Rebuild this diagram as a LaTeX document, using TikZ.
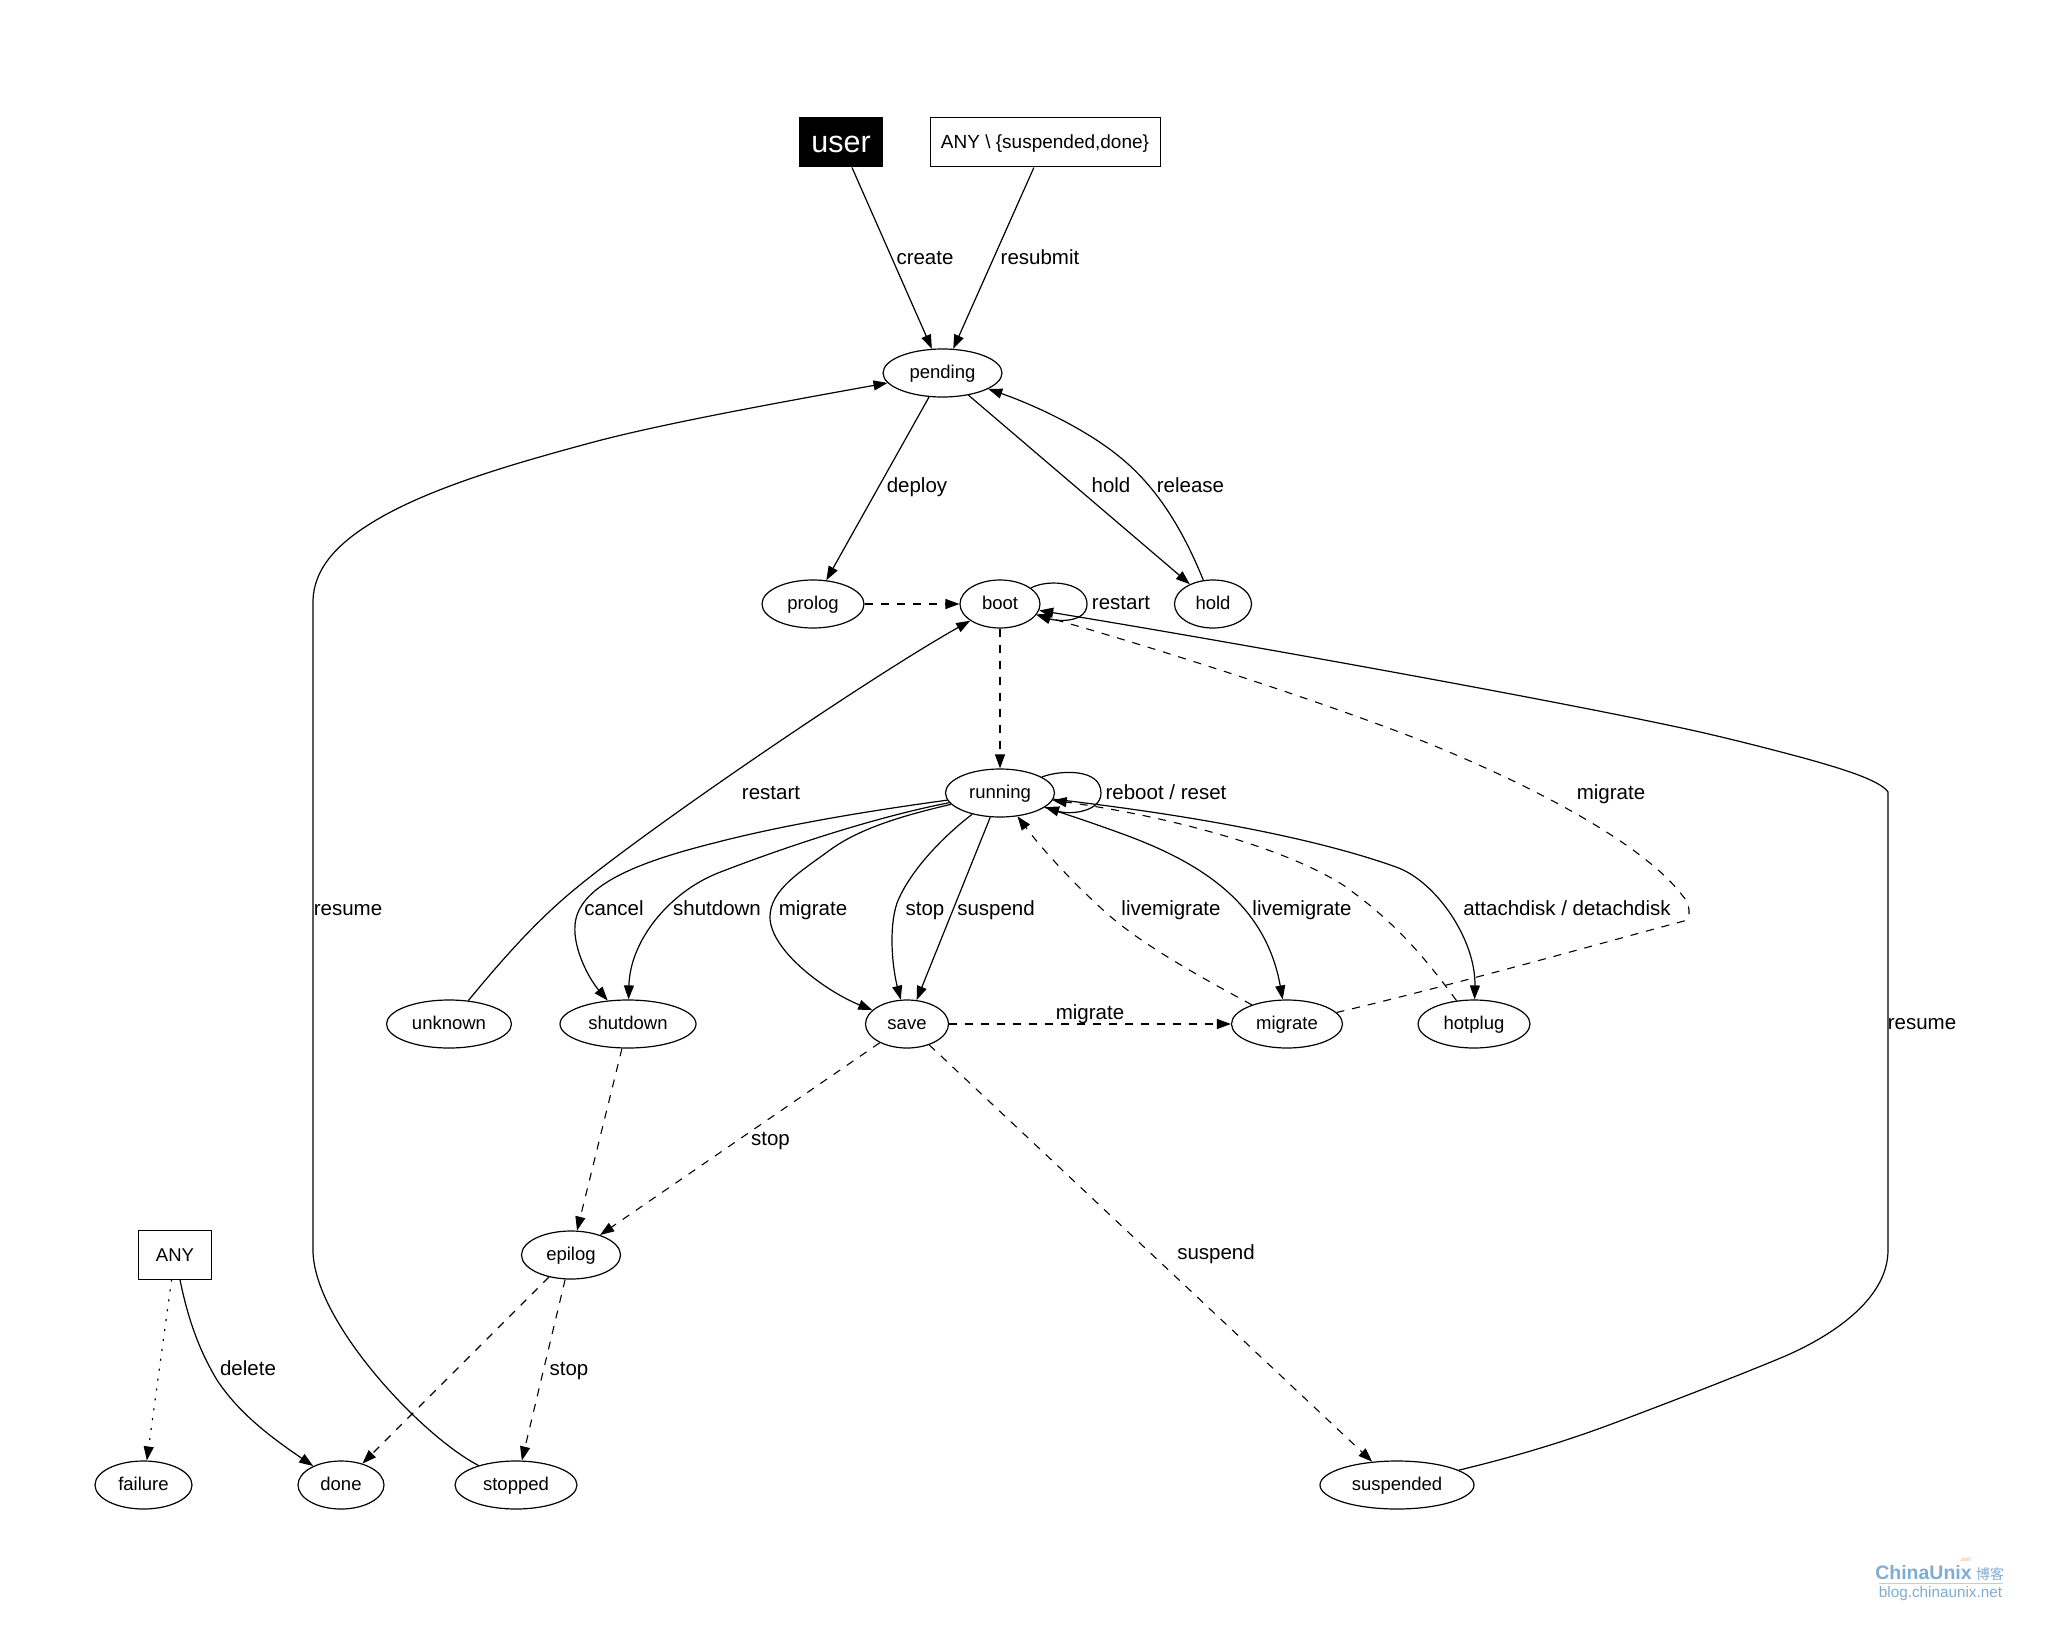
\documentclass[tikz,border=0pt]{standalone}
\usepackage{fontspec}
\setmainfont{Liberation Sans}
\newfontfamily\cjk{Noto Sans CJK SC}
\usetikzlibrary{arrows.meta,shapes.geometric}
\definecolor{markblue}{HTML}{7FACD3}
\tikzset{
  state/.style={ellipse,draw,line width=1.2pt,minimum height=48pt,inner sep=0pt,text height=14pt,text depth=3pt,font=\fontsize{18.5}{20}\selectfont},
  srcbox/.style={rectangle,draw,line width=1pt,minimum height=49pt,inner sep=0pt,text height=15pt,text depth=2pt,font=\fontsize{18.5}{20}\selectfont},
  edgelab/.style={inner sep=0pt,text height=15pt,text depth=2pt,font=\fontsize{20.5}{22}\selectfont},
  marktext/.style={inner sep=0pt,text=markblue},
  trans/.style={line width=1.2pt,-{Triangle[length=14pt,width=10pt]}},
  dashtrans/.style={trans,line width=1.1pt,dash pattern=on 8pt off 8pt},
  dottrans/.style={trans,dash pattern=on 2pt off 8pt},
}
\begin{document}
\begin{tikzpicture}[x=1pt,y=-1pt]
  \useasboundingbox (0,0) rectangle (2051,1627);

  % Source boxes
  \node[srcbox,fill=black,text=white,minimum width=83pt,text height=24pt,text depth=4pt,font=\fontsize{30.5}{32}\selectfont] (user) at (841,142.5) {user};
  \node[srcbox,minimum width=230pt,font=\fontsize{19}{20}\selectfont] (anyrest) at (1045,142.5) {ANY \textbackslash\ \{suspended,done\}};
  \node[srcbox,minimum width=73pt] (anyall) at (175,1254.5) {ANY};

  % States
  \node[state,minimum width=119pt] (pending) at (942.5,373) {pending};
  \node[state,minimum width=102pt] (prolog) at (813,604) {prolog};
  \node[state,minimum width=80pt] (boot) at (1000,604) {boot};
  \node[state,minimum width=77pt] (hold) at (1213,604) {hold};
  \node[state,minimum width=109pt] (running) at (1000,793) {running};
  \node[state,minimum width=125pt] (unknown) at (449,1024) {unknown};
  \node[state,minimum width=136pt] (shutdown) at (628,1024) {shutdown};
  \node[state,minimum width=83pt] (save) at (907,1024) {save};
  \node[state,minimum width=111pt] (migrate) at (1287,1024) {migrate};
  \node[state,minimum width=112pt] (hotplug) at (1474,1024) {hotplug};
  \node[state,minimum width=99pt] (epilog) at (571,1255) {epilog};
  \node[state,minimum width=97pt] (failure) at (143.5,1485) {failure};
  \node[state,minimum width=86pt] (done) at (341,1485) {done};
  \node[state,minimum width=122pt] (stopped) at (516,1485) {stopped};
  \node[state,minimum width=154pt] (suspended) at (1397,1485) {suspended};

  % Into pending
  \draw[trans] (user) -- (pending);
  \draw[trans] (anyrest) -- (pending);
  \draw[trans] (pending) -- (prolog);
  \draw[trans] (pending) -- (hold);
  \draw[trans] (hold) .. controls (1185,535) and (1160,490) .. (1121,458) .. controls (1090,432) and (1040,407) .. (pending);
  \draw[trans] (stopped) .. controls (420,1435) and (313,1320) .. (313,1250) -- (313,600) .. controls (314,570) and (335,545) .. (373,522) .. controls (430,487) and (520,462) .. (590,443) .. controls (660,424) and (782,402) .. (pending);

  % Around boot
  \draw[dashtrans] (prolog) -- (boot);
  \draw[dashtrans] (boot) -- (running);
  \draw[trans] (boot) .. controls (1050,578) and (1087,583) .. (1087,604) .. controls (1087,622) and (1060,622) .. (boot);
  \draw[trans] (unknown) .. controls (510,950) and (540,918) .. (575,889) .. controls (650,827) and (870,677) .. (boot);
  \draw[trans] (suspended) .. controls (1530,1453) and (1580,1436) .. (1617,1422) .. controls (1670,1402) and (1730,1379) .. (1783,1357) .. controls (1830,1337) and (1888,1300) .. (1888,1250) -- (1888,792) .. controls (1880,780) and (1840,768) .. (1800,757) .. controls (1770,749) and (1735,740) .. (1700,732) .. controls (1580,705) and (1250,645) .. (boot);
  \draw[dashtrans] (migrate) .. controls (1450,986) and (1620,938) .. (1684,921) .. controls (1692,918) and (1690,903) .. (1682,895) .. controls (1640,840) and (1520,780) .. (1420,740) .. controls (1330,705) and (1180,655) .. (boot);

  % Out of running
  \draw[trans] (running) .. controls (1060,770) and (1101,768) .. (1101,793) .. controls (1101,812) and (1070,815) .. (running);
  \draw[trans] (running) .. controls (860,812) and (780,826) .. (718,842) .. controls (650,859) and (578,882) .. (575,925) .. controls (573,950) and (590,980) .. (shutdown);
  \draw[trans] (running) .. controls (880,816) and (790,845) .. (718,873) .. controls (670,892) and (630,940) .. (shutdown);
  \draw[trans] (running) .. controls (905,815) and (860,828) .. (830,850) .. controls (800,872) and (770,890) .. (770,917) .. controls (770,950) and (825,991) .. (save);
  \draw[trans] (running) .. controls (945,835) and (910,870) .. (897,903) .. controls (888,930) and (893,970) .. (save);
  \draw[trans] (running) -- (save);
  \draw[trans] (running) .. controls (1075,817) and (1098,825) .. (1120,833) .. controls (1195,860) and (1265,900) .. (migrate);
  \draw[trans] (running) .. controls (1130,808) and (1290,829) .. (1396,867) .. controls (1436,881) and (1476,940) .. (hotplug);

  % Back to running
  \draw[dashtrans] (migrate) .. controls (1210,982) and (1150,950) .. (1111,917) .. controls (1080,890) and (1045,853) .. (running);
  \draw[dashtrans] (hotplug) .. controls (1430,965) and (1400,925) .. (1343,885) .. controls (1280,845) and (1160,815) .. (running);

  % Below save
  \draw[dashtrans] (save) -- (migrate);
  \draw[dashtrans] (shutdown) -- (epilog);
  \draw[dashtrans] (save) -- (epilog);
  \draw[dashtrans] (save) -- (suspended);
  \draw[dashtrans] (epilog) -- (done);
  \draw[dashtrans] (epilog) -- (stopped);
  \draw[dottrans] (anyall) -- (failure);
  \draw[trans] (anyall) .. controls (190,1330) and (205,1360) .. (217,1380) .. controls (240,1415) and (275,1440) .. (done);

  % Edge labels
  \node[edgelab] (lcreate) at (925,258) {create};
  \node[edgelab] (lresubmit) at (1040,258) {resubmit};
  \node[edgelab] (ldeploy) at (917,486) {deploy};
  \node[edgelab] (lhold) at (1111,486) {hold};
  \node[edgelab] (lrelease) at (1190.5,486) {release};
  \node[edgelab] (lrestarta) at (1121,603) {restart};
  \node[edgelab] (lrestartb) at (771,793) {restart};
  \node[edgelab] (lreboot) at (1166,793) {reboot / reset};
  \node[edgelab] (lmigratea) at (1611,793) {migrate};
  \node[edgelab] (lresumea) at (348,909) {resume};
  \node[edgelab] (lcancel) at (614,909) {cancel};
  \node[edgelab] (lshutdown) at (717,909) {shutdown};
  \node[edgelab] (lmigrateb) at (813,909) {migrate};
  \node[edgelab] (lstopa) at (925,909) {stop};
  \node[edgelab] (lsuspenda) at (996,909) {suspend};
  \node[edgelab] (llivea) at (1171,909) {livemigrate};
  \node[edgelab] (lliveb) at (1302,909) {livemigrate};
  \node[edgelab] (lattach) at (1567,909) {attachdisk / detachdisk};
  \node[edgelab] (lmigratec) at (1090,1013) {migrate};
  \node[edgelab] (lresumeb) at (1922,1023) {resume};
  \node[edgelab] (lstopb) at (770.5,1139) {stop};
  \node[edgelab] (lsuspendb) at (1216,1253) {suspend};
  \node[edgelab] (ldelete) at (248,1369) {delete};
  \node[edgelab] (lstopc) at (569,1369) {stop};

  % Site mark
  \node[marktext,font=\fontsize{19.5}{22}\selectfont\bfseries] (markname) at (1923.5,1572.5) {ChinaUnix};
  \node[inner sep=0pt,text=orange!50,font=\fontsize{6}{7}\selectfont\bfseries] (marknet) at (1965,1560) {.net};
  \node[marktext,font=\fontsize{14}{16}\selectfont\cjk] (markcn) at (1990,1574) {博客};
  \node[marktext,font=\fontsize{15.3}{17}\selectfont] (markurl) at (1940.5,1594) {blog.chinaunix.net};
  \coordinate (rulea) at (1879,1583);
  \coordinate (ruleb) at (2003,1583);
  \draw[black!20,line width=0.8pt] (rulea) -- (ruleb);
\end{tikzpicture}
\end{document}
